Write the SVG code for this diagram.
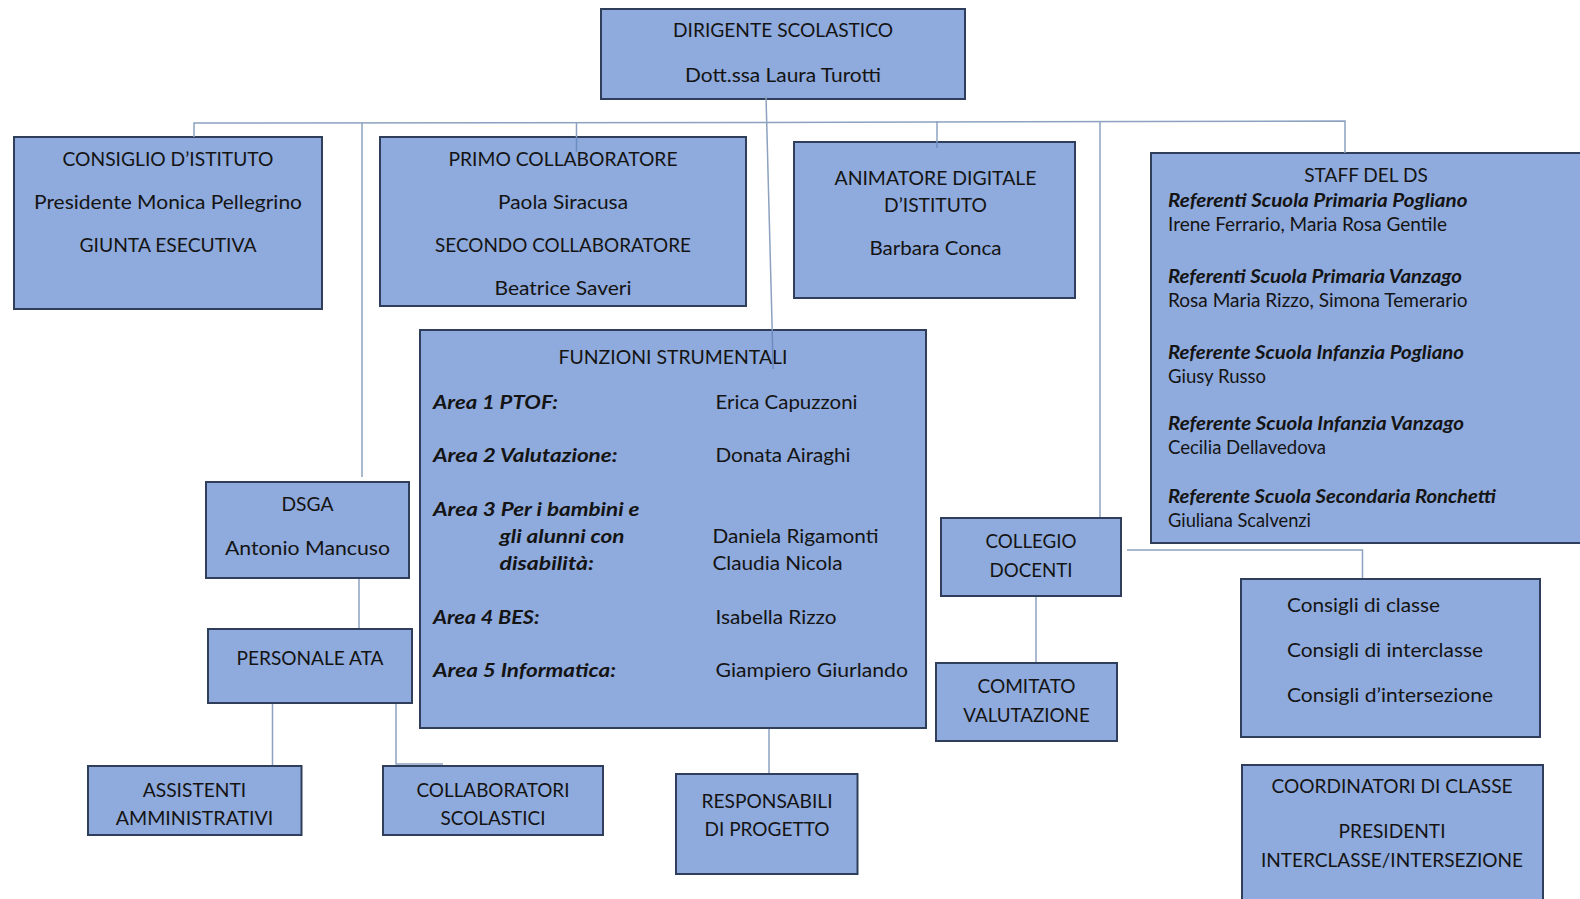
<svg xmlns="http://www.w3.org/2000/svg" width="1580" height="899" viewBox="0 0 1580 899">
<style>
.box{fill:#8faadc;stroke:#2f3e5a;stroke-width:2}
.ln{stroke:#8ca2c0;stroke-width:1.5;fill:none}
.ln2{stroke:#6d8cc2;stroke-width:1.5;fill:none}
text{font-family:Lato,"Open Sans","Liberation Sans",sans-serif;font-size:18.5px;fill:#141414}
.c{text-anchor:middle}
.bi{font-weight:bold;font-style:italic}
</style>
<rect width="1580" height="899" fill="#ffffff"/>
<g id="dirigente">
<rect class="box" x="601" y="9" width="364" height="90"/>
<text class="c" x="783" y="37" textLength="220" lengthAdjust="spacingAndGlyphs">DIRIGENTE SCOLASTICO</text>
<text class="c" x="783" y="82" textLength="196" lengthAdjust="spacingAndGlyphs">Dott.ssa Laura Turotti</text>
</g>
<g id="consiglio">
<rect class="box" x="14" y="137" width="308" height="172"/>
<text class="c" x="168" y="166" textLength="211" lengthAdjust="spacingAndGlyphs">CONSIGLIO D’ISTITUTO</text>
<text class="c" x="168" y="209" textLength="268" lengthAdjust="spacingAndGlyphs">Presidente Monica Pellegrino</text>
<text class="c" x="168" y="252" textLength="177" lengthAdjust="spacingAndGlyphs">GIUNTA ESECUTIVA</text>
</g>
<g id="collaboratori-ds">
<rect class="box" x="380" y="137" width="366" height="169"/>
<text class="c" x="563" y="166" textLength="229" lengthAdjust="spacingAndGlyphs">PRIMO COLLABORATORE</text>
<text class="c" x="563" y="209" textLength="130" lengthAdjust="spacingAndGlyphs">Paola Siracusa</text>
<text class="c" x="563" y="252" textLength="256" lengthAdjust="spacingAndGlyphs">SECONDO COLLABORATORE</text>
<text class="c" x="563" y="295" textLength="137" lengthAdjust="spacingAndGlyphs">Beatrice Saveri</text>
</g>
<g id="animatore">
<rect class="box" x="794" y="142" width="281" height="156"/>
<text class="c" x="935.5" y="185" textLength="202" lengthAdjust="spacingAndGlyphs">ANIMATORE DIGITALE</text>
<text class="c" x="935.5" y="212" textLength="103" lengthAdjust="spacingAndGlyphs">D’ISTITUTO</text>
<text class="c" x="935.5" y="255" textLength="132" lengthAdjust="spacingAndGlyphs">Barbara Conca</text>
</g>
<g id="staff">
<rect class="box" x="1151" y="153" width="440" height="390"/>
<text class="c" x="1366" y="182" textLength="123.5" lengthAdjust="spacingAndGlyphs">STAFF DEL DS</text>
<text class="bi" x="1168" y="207" textLength="299.5" lengthAdjust="spacingAndGlyphs">Referenti Scuola Primaria Pogliano</text>
<text x="1168" y="231" textLength="279" lengthAdjust="spacingAndGlyphs">Irene Ferrario, Maria Rosa Gentile</text>
<text class="bi" x="1168" y="283" textLength="294" lengthAdjust="spacingAndGlyphs">Referenti Scuola Primaria Vanzago</text>
<text x="1168" y="307" textLength="299.5" lengthAdjust="spacingAndGlyphs">Rosa Maria Rizzo, Simona Temerario</text>
<text class="bi" x="1168" y="359" textLength="296" lengthAdjust="spacingAndGlyphs">Referente Scuola Infanzia Pogliano</text>
<text x="1168" y="383" textLength="98" lengthAdjust="spacingAndGlyphs">Giusy Russo</text>
<text class="bi" x="1168" y="430" textLength="296" lengthAdjust="spacingAndGlyphs">Referente Scuola Infanzia Vanzago</text>
<text x="1168" y="454" textLength="158" lengthAdjust="spacingAndGlyphs">Cecilia Dellavedova</text>
<text class="bi" x="1168" y="503" textLength="328" lengthAdjust="spacingAndGlyphs">Referente Scuola Secondaria Ronchetti</text>
<text x="1168" y="527" textLength="143" lengthAdjust="spacingAndGlyphs">Giuliana Scalvenzi</text>
</g>
<g id="funzioni">
<rect class="box" x="420" y="330" width="506" height="398"/>
<text class="c" x="673" y="364" textLength="229" lengthAdjust="spacingAndGlyphs">FUNZIONI STRUMENTALI</text>
<text class="bi" x="433" y="409" textLength="125" lengthAdjust="spacingAndGlyphs">Area 1 PTOF:</text>
<text x="715.5" y="409" textLength="142" lengthAdjust="spacingAndGlyphs">Erica Capuzzoni</text>
<text class="bi" x="433" y="462" textLength="184.5" lengthAdjust="spacingAndGlyphs">Area 2 Valutazione:</text>
<text x="715.5" y="462" textLength="135" lengthAdjust="spacingAndGlyphs">Donata Airaghi</text>
<text class="bi" x="433" y="516" textLength="206.5" lengthAdjust="spacingAndGlyphs">Area 3 Per i bambini e</text>
<text class="bi" x="499.5" y="543" textLength="125" lengthAdjust="spacingAndGlyphs">gli alunni con</text>
<text class="bi" x="499.5" y="570" textLength="94.5" lengthAdjust="spacingAndGlyphs">disabilità:</text>
<text x="712.5" y="543" textLength="166" lengthAdjust="spacingAndGlyphs">Daniela Rigamonti</text>
<text x="712.5" y="570" textLength="130" lengthAdjust="spacingAndGlyphs">Claudia Nicola</text>
<text class="bi" x="433" y="624" textLength="106.5" lengthAdjust="spacingAndGlyphs">Area 4 BES:</text>
<text x="715.5" y="624" textLength="121" lengthAdjust="spacingAndGlyphs">Isabella Rizzo</text>
<text class="bi" x="433" y="677" textLength="183" lengthAdjust="spacingAndGlyphs">Area 5 Informatica:</text>
<text x="715.5" y="677" textLength="192.5" lengthAdjust="spacingAndGlyphs">Giampiero Giurlando</text>
</g>
<g id="dsga">
<rect class="box" x="206" y="482" width="203" height="96"/>
<text class="c" x="307.5" y="511" textLength="52" lengthAdjust="spacingAndGlyphs">DSGA</text>
<text class="c" x="307.5" y="555" textLength="165" lengthAdjust="spacingAndGlyphs">Antonio Mancuso</text>
</g>
<g id="personale-ata">
<rect class="box" x="208" y="629" width="204" height="74"/>
<text class="c" x="310" y="665" textLength="147" lengthAdjust="spacingAndGlyphs">PERSONALE ATA</text>
</g>
<g id="assistenti">
<rect class="box" x="88" y="766" width="213.5" height="69"/>
<text class="c" x="194.5" y="797" textLength="103.5" lengthAdjust="spacingAndGlyphs">ASSISTENTI</text>
<text class="c" x="194.5" y="825" textLength="157.5" lengthAdjust="spacingAndGlyphs">AMMINISTRATIVI</text>
</g>
<g id="collaboratori-scolastici">
<rect class="box" x="383" y="766" width="220" height="69"/>
<text class="c" x="493" y="797" textLength="153" lengthAdjust="spacingAndGlyphs">COLLABORATORI</text>
<text class="c" x="493" y="825" textLength="105" lengthAdjust="spacingAndGlyphs">SCOLASTICI</text>
</g>
<g id="responsabili">
<rect class="box" x="676" y="774" width="181.5" height="100"/>
<text class="c" x="767" y="808" textLength="131" lengthAdjust="spacingAndGlyphs">RESPONSABILI</text>
<text class="c" x="767" y="836" textLength="125" lengthAdjust="spacingAndGlyphs">DI PROGETTO</text>
</g>
<g id="collegio">
<rect class="box" x="941" y="518" width="180" height="78"/>
<text class="c" x="1031" y="548" textLength="91" lengthAdjust="spacingAndGlyphs">COLLEGIO</text>
<text class="c" x="1031" y="577" textLength="83" lengthAdjust="spacingAndGlyphs">DOCENTI</text>
</g>
<g id="comitato">
<rect class="box" x="936" y="663" width="181" height="78"/>
<text class="c" x="1026.5" y="693" textLength="98" lengthAdjust="spacingAndGlyphs">COMITATO</text>
<text class="c" x="1026.5" y="722" textLength="126.5" lengthAdjust="spacingAndGlyphs">VALUTAZIONE</text>
</g>
<g id="consigli">
<rect class="box" x="1241" y="579" width="299" height="158"/>
<text x="1287" y="612" textLength="153" lengthAdjust="spacingAndGlyphs">Consigli di classe</text>
<text x="1287" y="657" textLength="196" lengthAdjust="spacingAndGlyphs">Consigli di interclasse</text>
<text x="1287" y="702" textLength="206" lengthAdjust="spacingAndGlyphs">Consigli d’intersezione</text>
</g>
<g id="coordinatori">
<rect class="box" x="1242" y="765" width="301" height="150"/>
<text class="c" x="1392" y="793" textLength="241" lengthAdjust="spacingAndGlyphs">COORDINATORI DI CLASSE</text>
<text class="c" x="1392" y="838" textLength="107" lengthAdjust="spacingAndGlyphs">PRESIDENTI</text>
<text class="c" x="1392" y="867" textLength="262" lengthAdjust="spacingAndGlyphs">INTERCLASSE/INTERSEZIONE</text>
</g>
<g id="connectors">
<polyline class="ln" points="194,137 194,123 765,122.5 1345,121 1345,153"/>
<line class="ln" x1="766" y1="96" x2="772.2" y2="330"/>
<line class="ln2" x1="772.2" y1="330" x2="773" y2="369"/>
<line class="ln" x1="362" y1="123" x2="362" y2="477"/>
<line class="ln" x1="576.5" y1="123" x2="576.5" y2="137"/>
<line class="ln2" x1="576.5" y1="137" x2="576.5" y2="152"/>
<line class="ln" x1="937" y1="121" x2="937" y2="142"/>
<line class="ln2" x1="937" y1="142" x2="937" y2="148"/>
<line class="ln" x1="1100" y1="121" x2="1100" y2="517"/>
<line class="ln" x1="359" y1="579" x2="359" y2="628"/>
<polyline class="ln" points="272.5,704 272.5,765"/>
<polyline class="ln" points="396,704 396,764 443,764"/>
<line class="ln" x1="769" y1="729" x2="769" y2="773"/>
<polyline class="ln" points="1127,550 1362.5,550 1362.5,578"/>
<line class="ln" x1="1036" y1="597" x2="1036" y2="662"/>
</g>
</svg>
